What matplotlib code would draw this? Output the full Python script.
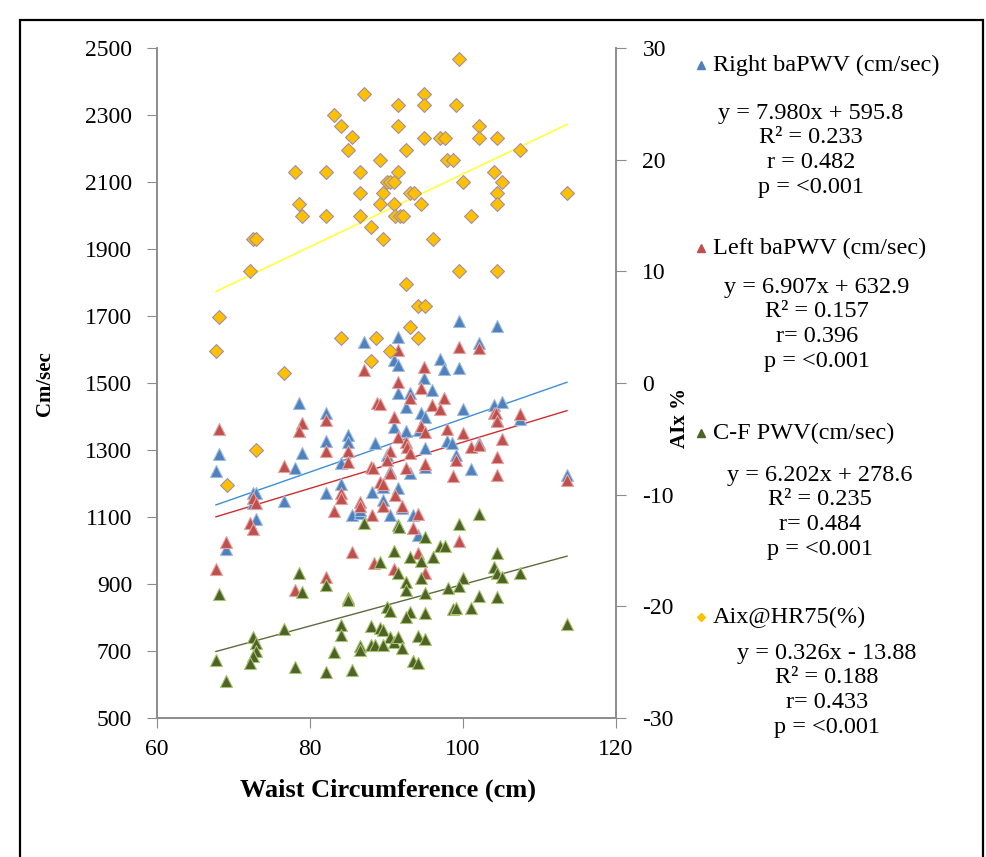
import matplotlib
matplotlib.use("Agg")
import matplotlib.pyplot as plt
import matplotlib.patches as mpatches
import numpy as np

plt.rcParams["axes.unicode_minus"] = False

# waist circumference (cm) and left-axis values (cm/sec)
right_x = [87.1, 78.6, 82.1, 85.0, 85.0, 82.1, 88.5, 79.0, 68.1, 67.7, 78.0, 84.1, 84.1,
           72.6, 73.0, 72.6, 73.0, 69.0, 76.6, 82.1, 88.1, 85.5, 86.5, 86.5, 99.5, 104.5,
           91.5, 102.1, 91.0, 91.5, 97.0, 97.5, 99.5, 94.9, 91.5, 93.1, 96.0, 92.6, 100.0,
           104.1, 105.1, 94.5, 95.0, 104.5, 107.5, 91.0, 92.6, 94.2, 97.9, 98.5, 102.1,
           95.0, 99.1, 90.1, 90.5, 93.1, 95.0, 101.0, 113.6, 89.6, 91.5, 89.6, 90.5, 92.0,
           93.5, 94.1]
right_y = [1623, 1441, 1411, 1345, 1325, 1327, 1322, 1292, 1288, 1237, 1247, 1260, 1198,
           1171, 1171, 1141, 1094, 1004, 1149, 1171, 1176, 1106, 1111, 1121, 1685, 1670,
           1636, 1620, 1569, 1554, 1572, 1541, 1544, 1514, 1469, 1469, 1479, 1429, 1422,
           1434, 1444, 1410, 1400, 1390, 1392, 1368, 1358, 1360, 1328, 1320, 1320,
           1305, 1285, 1285, 1238, 1232, 1250, 1243, 1225, 1190, 1186, 1151, 1106, 1126,
           1106, 1046]

left_x = [87.1, 88.8, 68.1, 79.0, 78.6, 82.1, 82.1, 85.0, 85.0, 76.6, 88.0, 89.2, 72.6,
          73.0, 72.1, 72.6, 69.0, 67.7, 78.0, 82.1, 84.1, 84.1, 83.1, 86.5, 86.5, 88.1,
          85.5, 88.4, 99.5, 102.1, 91.5, 94.9, 91.5, 94.5, 93.1, 97.5, 89.2, 96.0, 97.0,
          91.0, 104.0, 104.3, 107.5, 104.5, 94.5, 95.0, 97.9, 100.0, 91.5, 105.1, 92.6,
          92.7, 93.1, 90.5, 101.0, 102.1, 104.5, 90.1, 95.0, 99.1, 92.6, 90.5, 98.7, 104.5,
          113.6, 88.2, 89.6, 91.1, 89.6, 92.0, 94.1, 93.5, 99.5, 94.1, 91.0, 95.0]
left_y = [1539, 1439, 1362, 1380, 1358, 1390, 1298, 1298, 1265, 1252, 1248, 1205, 1156,
          1141, 1081, 1063, 1024, 944, 882, 922, 1171, 1156, 1119, 1146, 1133, 1106,
          996, 962, 1608, 1604, 1599, 1549, 1504, 1484, 1454, 1454, 1437, 1434, 1421,
          1399, 1410, 1410, 1407, 1387, 1372, 1355, 1362, 1352, 1338, 1332, 1325,
          1308, 1292, 1298, 1310, 1315, 1280, 1270, 1258, 1270, 1245, 1232, 1222, 1225,
          1210, 1245, 1200, 1166, 1133, 1133, 1109, 1066, 1029, 993, 944, 934]

cf_x = [87.1, 78.6, 79.0, 82.1, 68.1, 85.0, 85.0, 89.1, 84.1, 84.1, 88.0, 76.6, 72.6,
        73.0, 73.0, 72.6, 72.1, 67.7, 69.0, 78.0, 82.1, 83.1, 85.5, 86.5, 86.5, 88.0,
        88.5, 91.5, 91.6, 95.0, 99.5, 102.1, 97.0, 97.6, 91.0, 93.1, 94.5, 96.1, 104.5,
        104.0, 104.5, 105.1, 107.5, 91.5, 94.5, 100.0, 92.6, 92.6, 95.0, 98.0, 99.5,
        102.1, 104.5, 90.0, 90.5, 93.1, 92.6, 95.0, 98.7, 99.1, 101.0, 113.6, 89.2,
        89.6, 90.5, 91.0, 91.5, 94.1, 95.0, 89.6, 92.0, 93.5, 94.1]
cf_y = [1081, 932, 877, 897, 869, 857, 852, 966, 778, 749, 776, 765, 741,
        725, 701, 685, 665, 673, 610, 653, 638, 698, 643, 715, 703, 718,
        718, 1076, 1070, 1041, 1079, 1109, 1013, 1013, 999, 982, 970, 980, 993,
        950, 932, 922, 934, 934, 917, 919, 905, 882, 872, 887, 894,
        864, 860, 830, 820, 817, 802, 813, 825, 829, 829, 781, 768,
        763, 741, 728, 743, 746, 736, 718, 708, 671, 663]

# right-axis values (AIx %)
aix_x = [87.1, 83.1, 84.1, 85.5, 85.0, 89.2, 78.0, 82.1, 86.5, 86.5, 78.6, 79.0, 82.1,
         86.5, 88.0, 72.6, 73.0, 72.1, 99.5, 94.9, 91.5, 94.9, 99.1, 91.5, 102.1, 94.9,
         97.0, 97.6, 102.1, 104.5, 92.6, 107.5, 97.9, 98.7, 91.5, 104.0, 90.0, 90.5,
         91.0, 100.0, 105.1, 89.6, 93.1, 93.6, 104.5, 113.6, 89.2, 91.0, 94.5, 104.5,
         91.1, 91.7, 92.2, 101.0, 89.6, 96.1, 99.5, 104.5, 68.1, 67.7, 84.1, 88.6, 88.0,
         76.6, 73.0, 69.1, 92.6, 94.1, 95.0, 93.1, 94.1, 90.5]
aix_y = [25.9, 24.0, 23.0, 22.0, 20.9, 20.0, 18.9, 18.9, 18.9, 17.0, 16.0, 15.0, 15.0,
         15.0, 14.0, 12.9, 12.9, 10.0, 29.0, 25.9, 24.9, 24.9, 24.9, 23.0, 23.0, 21.9,
         21.9, 21.9, 21.9, 21.9, 20.9, 20.9, 20.0, 20.0, 18.9, 18.9, 18.0, 18.0,
         18.0, 18.0, 18.0, 17.0, 17.0, 17.0, 17.0, 17.0, 16.0, 16.0, 16.0, 16.0,
         15.0, 15.0, 15.0, 15.0, 12.9, 12.9, 10.0, 10.0, 5.9, 2.9, 4.0, 4.0, 2.0,
         0.9, -6.0, -9.1, 8.9, 6.9, 6.9, 5.0, 4.0, 2.9]

# fitted lines as printed on the chart (slope, intercept)
fit_right = (7.980, 595.8)
fit_left = (6.907, 632.9)
fit_cf = (6.202, 278.6)
fit_aix = (0.326, -13.88)

legend_blocks = [
    ("Right baPWV (cm/sec)", "y = 7.980x + 595.8", "R² = 0.233", "r = 0.482", "p = <0.001"),
    ("Left baPWV (cm/sec)", "y = 6.907x + 632.9", "R² = 0.157", "r= 0.396", "p = <0.001"),
    ("C-F PWV(cm/sec)", "y = 6.202x + 278.6", "R² = 0.235", "r= 0.484", "p = <0.001"),
    ("Aix@HR75(%)", "y = 0.326x - 13.88", "R² = 0.188", "r= 0.433", "p = <0.001"),
]

W, H = 986, 857
SERIF = "Liberation Serif"


def fx(x):
    return x / W


def fy(y):
    return 1 - y / H


fig = plt.figure(figsize=(W / 100, H / 100), dpi=100)
fig.patches.append(mpatches.Rectangle((fx(20), fy(900)), fx(963), (900 - 20) / H,
                                      transform=fig.transFigure, fill=False,
                                      edgecolor="black", lw=1.6))

ax = fig.add_axes([fx(157), fy(718), fx(616 - 157), (718 - 48) / H])
ax2 = ax.twinx()

tri = dict(marker="^", s=75, linewidths=0.8, zorder=3)
ax.scatter(right_x, right_y, color="#4F81BD", edgecolors="#9DBBE0", **tri)
ax.scatter(left_x, left_y, color="#C0504D", edgecolors="#E3A3A1", **tri)
ax.scatter(cf_x, cf_y, color="#4F6228", edgecolors="#A8C46E", **tri)
ax2.scatter(aix_x, aix_y, marker="D", s=50, color="#FFC000", edgecolors="#A08FA8",
            linewidths=0.8, zorder=3)


def trend(a, xs, fit, color, lw=1.0):
    xx = np.array([min(xs), max(xs)])
    a.plot(xx, fit[0] * xx + fit[1], color=color, lw=lw, zorder=2)


trend(ax, right_x, fit_right, "#3B8FD9")
trend(ax, left_x, fit_left, "#D02C2C")
trend(ax, cf_x, fit_cf, "#5E6B3C")
trend(ax2, aix_x, fit_aix, "#FFFF40", lw=1.2)

ax.set_xlim(60, 120)
ax.set_ylim(500, 2500)
ax2.set_ylim(-30, 30)
ax.set_xticks([60, 80, 100, 120])
ax.set_yticks(range(500, 2501, 200))
ax2.set_yticks(range(-30, 31, 10))

for a in (ax, ax2):
    a.spines["top"].set_visible(False)
    for side in ("left", "right", "bottom"):
        a.spines[side].set_color("#8C8C8C")
        a.spines[side].set_linewidth(1.2)
    a.tick_params(direction="out", length=7, color="#8C8C8C", labelsize=17)
    for lab in a.get_xticklabels() + a.get_yticklabels():
        lab.set_family(SERIF)
ax.tick_params(axis="y", pad=11)
ax.tick_params(axis="x", pad=8)
ax2.tick_params(axis="y", pad=12)

fig.text(fx(45), fy(384), "Cm/sec", rotation=90, ha="center", va="center",
         family=SERIF, fontsize=15, fontweight="bold")
fig.text(fx(680), fy(418), "AIx %", rotation=90, ha="center", va="center",
         family=SERIF, fontsize=15, fontweight="bold")
fig.text(fx(388), fy(790), "Waist Circumference (cm)", ha="center", va="center",
         family=SERIF, fontsize=19, fontweight="bold")

# legend entries with equations
markers = [("^", "#4F81BD"), ("^", "#C0504D"), ("^", "#4F6228"), ("D", "#FFC000")]
title_y = [65, 248, 433, 617]
eq_y0 = [113, 287, 475, 653]
eq_cx = [811, 817, 820, 827]
for (title, *lines), (m, c), ty, ey, cx in zip(legend_blocks, markers, title_y, eq_y0, eq_cx):
    fig.lines.append(plt.Line2D([fx(701)], [fy(ty)], marker=m, color=c, ms=6 if m == "^" else 4.5,
                                transform=fig.transFigure))
    fig.text(fx(713), fy(ty), title, ha="left", va="center", family=SERIF, fontsize=17.5)
    for i, ln in enumerate(lines):
        fig.text(fx(cx), fy(ey + 24.8 * i), ln, ha="center", va="center",
                 family=SERIF, fontsize=17.5)

fig.savefig("out.png", dpi=100)
